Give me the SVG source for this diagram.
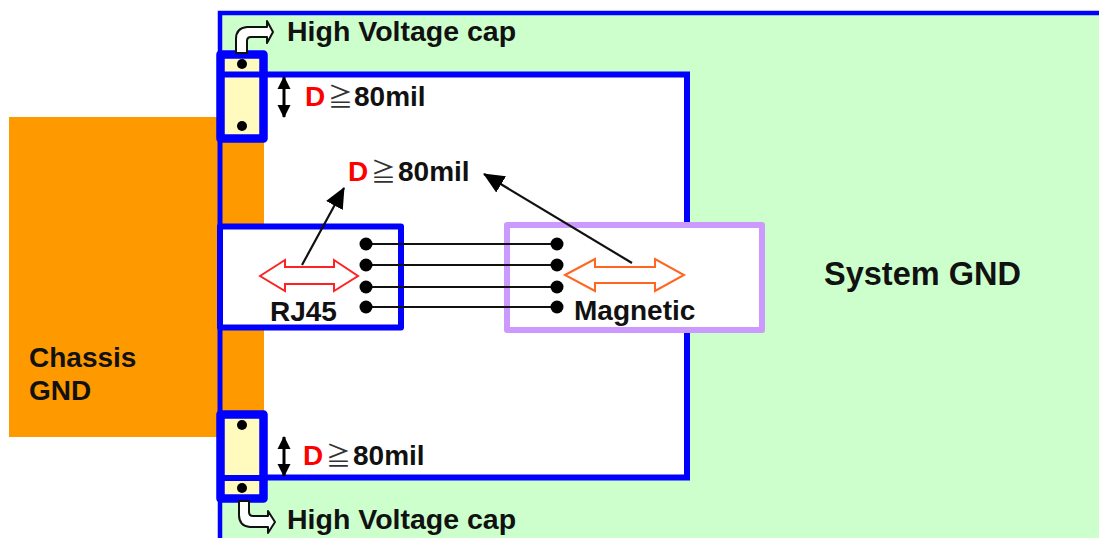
<svg xmlns="http://www.w3.org/2000/svg" width="1099" height="538" viewBox="0 0 1099 538">
<defs>
<marker id="big" markerUnits="userSpaceOnUse" markerWidth="24" markerHeight="24" refX="20" refY="12" orient="auto"><path d="M0,2.500 L21,12 L0,21.500 Z" fill="#000"/></marker>
<marker id="small" markerUnits="userSpaceOnUse" markerWidth="16" markerHeight="16" refX="12" refY="8" orient="auto-start-reverse"><path d="M0,1.500 L13,8 L0,14.500 Z" fill="#000"/></marker>
</defs>
<style>
text{font-family:"Liberation Sans",Arial,sans-serif;font-weight:bold;font-size:28px;fill:#111}
.blue{stroke:#0000ff;fill:none}
.cap{fill:#fffbbf;stroke:#0000ff;stroke-width:8.500;stroke-linejoin:round}
.wire{stroke:#111;stroke-width:2;fill:none}
.dot{fill:#000}
.d{fill:#ff0000}
.ge{font-family:'Noto Sans CJK JP',sans-serif;font-weight:normal;font-size:25px;fill:#333}
.dim{stroke:#000;stroke-width:3;fill:none;marker-start:url(#small);marker-end:url(#small)}
.lead{stroke:#111;stroke-width:2.200;fill:none;marker-end:url(#big)}
.pipe{fill:#fff;stroke:#111;stroke-width:2;stroke-linejoin:round}
</style>
<rect width="1099" height="538" fill="#fff"/>
<g id="system-gnd">
<path d="M220,538 V13 H1099 V538 Z" fill="#ccffcc"/>
<path d="M220,538 V13 H1099" class="blue" stroke-width="4.500"/>
<text x="824" y="284.500" style="font-size:32.500px">System GND</text>
</g>
<g id="chassis-gnd">
<rect x="9" y="117" width="255" height="320" fill="#ff9900"/>
<text x="29" y="367">Chassis</text>
<text x="29" y="400">GND</text>
</g>
<g id="keepout">
<rect x="264" y="74" width="423" height="404" fill="#fff"/>
<path d="M220,74.500 H687 V477.500 H220" class="blue" stroke-width="6"/>
<path d="M220,117 V437" class="blue" stroke-width="5"/>
</g>
<g id="cap-top">
<rect x="220.500" y="54.500" width="43" height="84" class="cap"/>
<path d="M224,74.500 H260" class="blue" stroke-width="6"/>
<circle class="dot" cx="242" cy="64" r="5"/><circle class="dot" cx="242" cy="126" r="5"/>
<path class="pipe" d="M236,53 V39 Q236,28 247,27 H267 V21 L273,32 L267,43 V37 H251 Q247,37 247,41 V53 Z"/>
<text x="287" y="41" style="font-size:28.500px">High Voltage cap</text>
</g>
<g id="cap-bottom">
<rect x="220.500" y="414.500" width="43" height="84" class="cap"/>
<path d="M224,478 H260" class="blue" stroke-width="6"/>
<circle class="dot" cx="242" cy="425" r="5"/><circle class="dot" cx="242" cy="488" r="5"/>
<path class="pipe" d="M239,501 V515 Q239,526 250,527 H268 V533 L275,522 L268,511 V516 H253 Q249,516 249,512 V501 Z"/>
<text x="287" y="529" style="font-size:28.500px">High Voltage cap</text>
</g>
<g id="dim-top">
<text x="305" y="106"><tspan class="d">D</tspan><tspan x="328" class="ge">≧</tspan><tspan x="354">80mil</tspan></text>
</g>
<g id="dim-center">
<text x="348" y="181"><tspan class="d">D</tspan><tspan x="371" class="ge">≧</tspan><tspan x="398">80mil</tspan></text>
</g>
<g id="dim-bottom">
<text x="303" y="465"><tspan class="d">D</tspan><tspan x="326" class="ge">≧</tspan><tspan x="353">80mil</tspan></text>
</g>
<g id="rj45">
<rect x="220" y="226.500" width="181" height="101" fill="#fff" stroke="#0000ff" stroke-width="6" stroke-linejoin="round"/>
<path d="M260,276 L285,260 V267 H334 V260 L358,276 L334,291 V284 H285 V291 Z" fill="#fff" stroke="#ff2222" stroke-width="2"/>
<text x="270" y="321">RJ45</text>
</g>
<g id="magnetic">
<rect x="507" y="225" width="255" height="105" fill="#fff" stroke="#cc99ff" stroke-width="6" stroke-linejoin="round"/>
<path d="M565,275 L595,259 V267 H655 V259 L684,275 L655,291 V283 H595 V291 Z" fill="#fff" stroke="#ff6620" stroke-width="2"/>
<text x="574" y="320">Magnetic</text>
</g>
<g id="connectors">
<path class="wire" d="M366,244 H557 M366,265 H557 M366,287 H557 M366,307 H557"/>
<g class="dot"><circle cx="366" cy="244" r="6.500"/><circle cx="366" cy="265" r="6.500"/><circle cx="366" cy="287" r="6.500"/><circle cx="366" cy="307" r="6.500"/>
<circle cx="557" cy="244" r="6.500"/><circle cx="557" cy="265" r="6.500"/><circle cx="557" cy="287" r="6.500"/><circle cx="557" cy="307" r="6.500"/></g>
<path class="lead" d="M302,265 L344,188"/>
<path class="lead" d="M632,263 L484,174"/>
<path class="dim" d="M284,77 V117"/>
<path class="dim" d="M284,437 V476"/>
</g>
</svg>
